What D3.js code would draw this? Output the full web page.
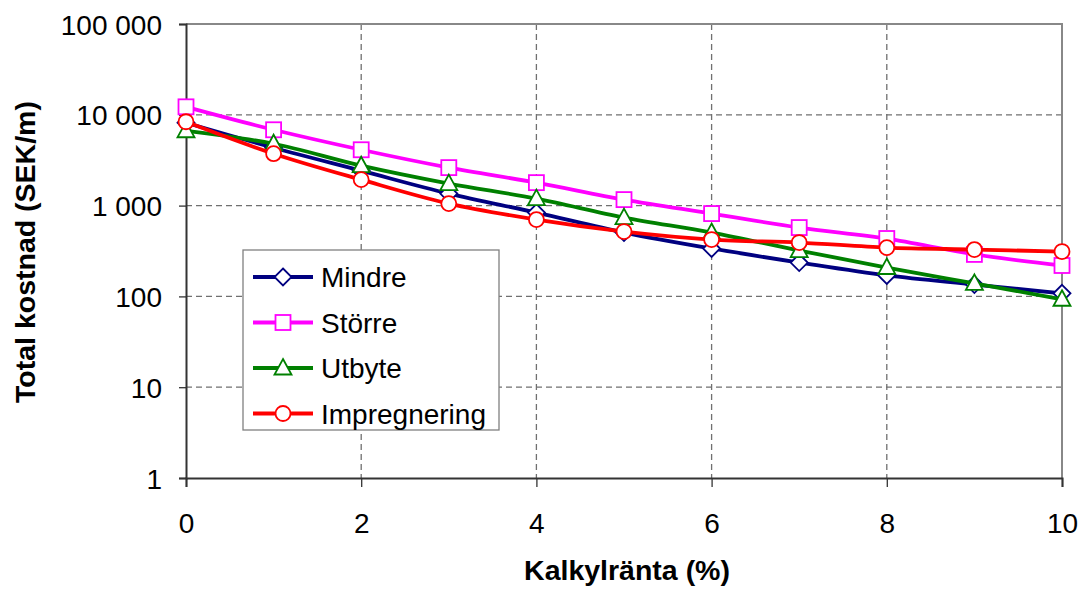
<!DOCTYPE html>
<html>
<head>
<meta charset="utf-8">
<script src="https://cdn.jsdelivr.net/npm/d3@7"></script>
<style>
  body { margin: 0; background: #fff; }
  text { font-family: Arial, "Liberation Sans", sans-serif; }
</style>
</head>
<body>
<svg id="chart"></svg>
<script>
// Total kostnad vs kalkylränta, log y axis

const rates = [0, 1, 2, 3, 4, 5, 6, 7, 8, 9, 10];
const mindre = [8170, 4340, 2425, 1355, 838, 505, 337, 236, 170, 135, 108];
const storre = [12240, 6840, 4120, 2620, 1790, 1164, 817, 573, 434, 290, 219];
const utbyte = [6670, 4800, 2750, 1745, 1194, 738, 505, 320, 208, 139, 93];
const impregnering = [8380, 3730, 1930, 1052, 702, 518, 423, 392, 345, 328, 312];

const xTicks = [0, 2, 4, 6, 8, 10];
const yTicks = [1, 10, 100, 1000, 10000, 100000];

const series = [
  { name: 'Mindre', values: mindre, color: '#000080', marker: 'diamond' },
  { name: 'Större', values: storre, color: '#ff00ff', marker: 'square' },
  { name: 'Utbyte', values: utbyte, color: '#008000', marker: 'triangle' },
  { name: 'Impregnering', values: impregnering, color: '#ff0000', marker: 'circle' }
];

const width = 1083;
const height = 589;
const plot = { left: 186, right: 1062, top: 24, bottom: 478 };
const fontSize = '28px';
const titleSize = '28.5px';

const svg = d3.select('#chart')
  .attr('width', width)
  .attr('height', height);

const x = d3.scaleLinear().domain([0, 10]).range([plot.left, plot.right]);
const y = d3.scaleLog().domain([1, 100000]).range([plot.bottom, plot.top]);

const fmt = v => d3.format(',')(v).replace(/,/g, ' ');

// grid
svg.append('g')
  .selectAll('line')
  .data(yTicks.slice(1, -1))
  .enter().append('line')
    .attr('x1', plot.left).attr('x2', plot.right)
    .attr('y1', d => y(d)).attr('y2', d => y(d))
    .attr('stroke', '#707070')
    .attr('stroke-width', 1.3)
    .attr('stroke-dasharray', '6,4');

svg.append('g')
  .selectAll('line')
  .data(xTicks.slice(1, -1))
  .enter().append('line')
    .attr('y1', plot.top).attr('y2', plot.bottom)
    .attr('x1', d => x(d)).attr('x2', d => x(d))
    .attr('stroke', '#707070')
    .attr('stroke-width', 1.3)
    .attr('stroke-dasharray', '6,4');

// frame top / right
svg.append('path')
  .attr('d', `M${plot.left},${plot.top}H${plot.right}V${plot.bottom}`)
  .attr('fill', 'none')
  .attr('stroke', '#888')
  .attr('stroke-width', 2);

// axes
const xAxis = svg.append('g')
  .attr('transform', `translate(0,${plot.bottom})`)
  .call(d3.axisBottom(x).tickValues(xTicks).tickSize(9));

const yAxis = svg.append('g')
  .attr('transform', `translate(${plot.left},0)`)
  .call(d3.axisLeft(y).tickValues(yTicks).tickFormat(fmt).tickSize(7).tickPadding(17));

[xAxis, yAxis].forEach(a => {
  a.select('.domain').attr('stroke', '#333').attr('stroke-width', 2);
  a.selectAll('.tick line').attr('stroke', '#333').attr('stroke-width', 1.3);
  a.selectAll('.tick text')
    .attr('fill', '#000')
    .style('font-size', fontSize);
});
xAxis.selectAll('.tick text').attr('y', 55).attr('dy', 0);
yAxis.selectAll('.tick text').attr('dy', '0.36em');

// axis titles
svg.append('text')
  .attr('x', (plot.left + plot.right) / 2 + 3)
  .attr('y', 580)
  .attr('text-anchor', 'middle')
  .style('font-size', titleSize)
  .style('font-weight', 'bold')
  .text('Kalkylränta (%)');

svg.append('text')
  .attr('transform', `translate(35,252) rotate(-90)`)
  .attr('text-anchor', 'middle')
  .style('font-size', titleSize)
  .style('font-weight', 'bold')
  .text('Total kostnad (SEK/m)');

// lines
const line = d3.line()
  .x((d, i) => x(rates[i]))
  .y(d => y(d))
  .curve(d3.curveCatmullRom.alpha(0.5));

function drawMarker(sel, type, color) {
  if (type === 'diamond') {
    sel.append('path').attr('d', 'M0,-8.5L8.5,0L0,8.5L-8.5,0Z');
  } else if (type === 'square') {
    sel.append('rect').attr('x', -7.5).attr('y', -7.5).attr('width', 15).attr('height', 15);
  } else if (type === 'triangle') {
    sel.append('path').attr('d', 'M0,-9L8.5,6.5L-8.5,6.5Z');
  } else {
    sel.append('circle').attr('r', 7.5);
  }
  sel.selectAll('*')
    .attr('fill', '#fff')
    .attr('stroke', color)
    .attr('stroke-width', 1.8);
}

series.forEach(s => {
  const g = svg.append('g');
  g.append('path')
    .datum(s.values)
    .attr('d', line)
    .attr('fill', 'none')
    .attr('stroke', s.color)
    .attr('stroke-width', 3.8);

  g.selectAll('.pt')
    .data(s.values)
    .enter().append('g')
      .attr('class', 'pt')
      .attr('transform', (d, i) => `translate(${x(rates[i])},${y(d)})`)
      .each(function () { drawMarker(d3.select(this), s.marker, s.color); });
});

// legend
const legend = svg.append('g').attr('transform', 'translate(243,250)');
legend.append('rect')
  .attr('width', 256)
  .attr('height', 180)
  .attr('fill', '#fff')
  .attr('stroke', '#808080')
  .attr('stroke-width', 1.3);

const item = legend.selectAll('.item')
  .data(series)
  .enter().append('g')
    .attr('class', 'item')
    .attr('transform', (d, i) => `translate(0,${27 + i * 45.5})`);

item.append('line')
  .attr('x1', 10).attr('x2', 70)
  .attr('stroke', d => d.color)
  .attr('stroke-width', 3.8);

item.append('g')
  .attr('transform', 'translate(40,0)')
  .each(function (d) { drawMarker(d3.select(this), d.marker, d.color); });

item.append('text')
  .attr('x', 78)
  .attr('dy', '0.36em')
  .style('font-size', fontSize)
  .text(d => d.name);
</script>
</body>
</html>
